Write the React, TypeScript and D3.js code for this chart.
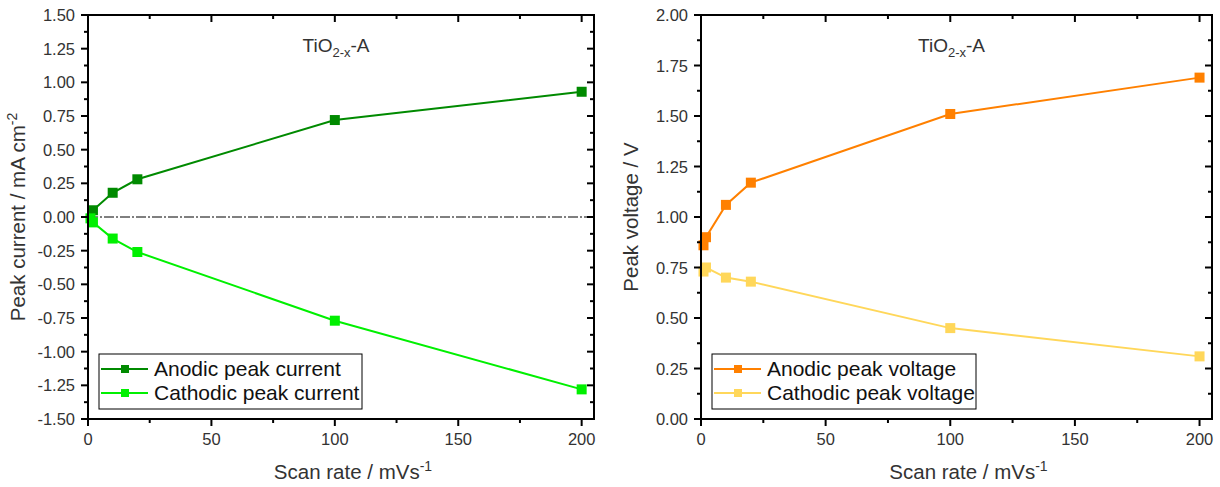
import React from "react";
import * as d3 from "d3";

const scanRateA = [2, 10, 20, 100, 200];
const anodicCurrent = [0.05, 0.18, 0.28, 0.72, 0.93];
const scanRateC = [1, 2, 10, 20, 100, 200];
const cathodicCurrent = [-0.01, -0.04, -0.16, -0.26, -0.77, -1.28];

const scanRateV = [1, 2, 10, 20, 100, 200];
const anodicVoltage = [0.86, 0.9, 1.06, 1.17, 1.51, 1.69];
const cathodicVoltage = [0.73, 0.75, 0.7, 0.68, 0.45, 0.31];

const xTicks = [0, 50, 100, 150, 200];
const yTicksLeft = [-1.5, -1.25, -1, -0.75, -0.5, -0.25, 0, 0.25, 0.5, 0.75, 1, 1.25, 1.5];
const yTicksRight = [0, 0.25, 0.5, 0.75, 1, 1.25, 1.5, 1.75, 2];

const FONT = "Liberation Sans, Arial, sans-serif";
const TXT = "#333";

type Series = { name: string; xs: number[]; ys: number[]; color: string };

function Panel(props: {
  x0: number; x1: number; yDomain: [number, number]; yTicks: number[];
  series: Series[]; yLabel: React.ReactNode; zeroLine?: boolean; legendW: number;
}) {
  const top = 15, bottom = 419;
  const { x0, x1, yDomain, yTicks, series } = props;
  const xs = d3.scaleLinear().domain([0, 205]).range([x0, x1]);
  const ys = d3.scaleLinear().domain(yDomain).range([bottom, top]);
  const minorX = d3.range(25, 205, 50);
  const minorY = yTicks.slice(0, -1).map((t, i) => (t + yTicks[i + 1]) / 2);
  const line = d3.line<[number, number]>().x(d => xs(d[0])).y(d => ys(d[1]));
  const ms = 10;
  const lx = x0 + 11, ly = 354;
  return (
    <g>
      {props.zeroLine && (
        <line x1={x0} x2={x1} y1={ys(0)} y2={ys(0)} stroke="#000" strokeWidth={1} strokeDasharray="10,2,2,2" />
      )}
      {series.map(s => (
        <g key={s.name}>
          <path d={line(s.xs.map((x, i) => [x, s.ys[i]] as [number, number])) || ""} fill="none" stroke={s.color} strokeWidth={2} />
          {s.xs.map((x, i) => (
            <rect key={i} x={xs(x) - ms / 2} y={ys(s.ys[i]) - ms / 2} width={ms} height={ms} fill={s.color} />
          ))}
        </g>
      ))}
      <rect x={x0} y={top} width={x1 - x0} height={bottom - top} fill="none" stroke="#000" strokeWidth={2} />
      {xTicks.map(t => (
        <g key={"xt" + t}>
          <line x1={xs(t)} x2={xs(t)} y1={bottom} y2={bottom + 7} stroke="#000" strokeWidth={2} />
          <line x1={xs(t)} x2={xs(t)} y1={top} y2={top + 7} stroke="#000" strokeWidth={2} />
          <text x={xs(t)} y={bottom + 26} textAnchor="middle" fontSize={16.5} fill={TXT} fontFamily={FONT}>{t}</text>
        </g>
      ))}
      {minorX.map(t => (
        <g key={"xm" + t}>
          <line x1={xs(t)} x2={xs(t)} y1={bottom} y2={bottom + 4} stroke="#000" strokeWidth={2} />
          <line x1={xs(t)} x2={xs(t)} y1={top} y2={top + 4} stroke="#000" strokeWidth={2} />
        </g>
      ))}
      {yTicks.map(t => (
        <g key={"yt" + t}>
          <line x1={x0 - 7} x2={x0} y1={ys(t)} y2={ys(t)} stroke="#000" strokeWidth={2} />
          <line x1={x1 - 7} x2={x1} y1={ys(t)} y2={ys(t)} stroke="#000" strokeWidth={2} />
          <text x={x0 - 13} y={ys(t) + 6} textAnchor="end" fontSize={16.5} fill={TXT} fontFamily={FONT}>{t.toFixed(2)}</text>
        </g>
      ))}
      {minorY.map(t => (
        <g key={"ym" + t}>
          <line x1={x0 - 4} x2={x0} y1={ys(t)} y2={ys(t)} stroke="#000" strokeWidth={2} />
          <line x1={x1 - 4} x2={x1} y1={ys(t)} y2={ys(t)} stroke="#000" strokeWidth={2} />
        </g>
      ))}
      <text x={(x0 + x1) / 2 - 5} y={52} textAnchor="middle" fontSize={19} fill={TXT} fontFamily={FONT}>
        TiO<tspan fontSize={13} dy={5}>2-x</tspan><tspan dy={-5}>-A</tspan>
      </text>
      <text x={(x0 + x1) / 2 + 12} y={479} textAnchor="middle" fontSize={20.5} fill={TXT} fontFamily={FONT}>
        Scan rate / mVs<tspan fontSize={14} dy={-8}>-1</tspan>
      </text>
      <text transform={`translate(${x0 - 63},${(top + bottom) / 2}) rotate(-90)`} textAnchor="middle" fontSize={20.5} fill={TXT} fontFamily={FONT}>
        {props.yLabel}
      </text>
      <rect x={lx} y={ly} width={props.legendW} height={55} fill="#fff" stroke="#000" strokeWidth={1} />
      {series.filter(s => s.name).map((s, i) => {
        const yy = ly + 15 + i * 24;
        return (
          <g key={"lg" + i}>
            <line x1={lx + 2} x2={lx + 49} y1={yy} y2={yy} stroke={s.color} strokeWidth={2} />
            <rect x={lx + 26 - 4} y={yy - 4} width={8} height={8} fill={s.color} />
            <text x={lx + 55} y={yy + 7} fontSize={21} fill="#111" fontFamily={FONT}>{s.name}</text>
          </g>
        );
      })}
    </g>
  );
}

export default function App() {
  return (
    <svg width={1220} height={487} style={{ display: "block", position: "absolute", left: 0, top: 0 }}>
      <rect width={1220} height={487} fill="#fff" />
      <Panel
        x0={88} x1={594} yDomain={[-1.5, 1.5]} yTicks={yTicksLeft} zeroLine legendW={263}
        series={[
          { name: "Anodic peak current", xs: scanRateA, ys: anodicCurrent, color: "#008a00" },
          { name: "Cathodic peak current", xs: scanRateC, ys: cathodicCurrent, color: "#00f000" },
        ]}
        yLabel={<>Peak current / mA cm<tspan fontSize={14} dy={-8}>-2</tspan></>}
      />
      <Panel
        x0={701} x1={1212} yDomain={[0, 2]} yTicks={yTicksRight} legendW={264}
        series={[
          { name: "Anodic peak voltage", xs: scanRateV, ys: anodicVoltage, color: "#ff8000" },
          { name: "Cathodic peak voltage", xs: scanRateV, ys: cathodicVoltage, color: "#ffd75a" },
        ]}
        yLabel={<>Peak voltage / V</>}
      />
    </svg>
  );
}
